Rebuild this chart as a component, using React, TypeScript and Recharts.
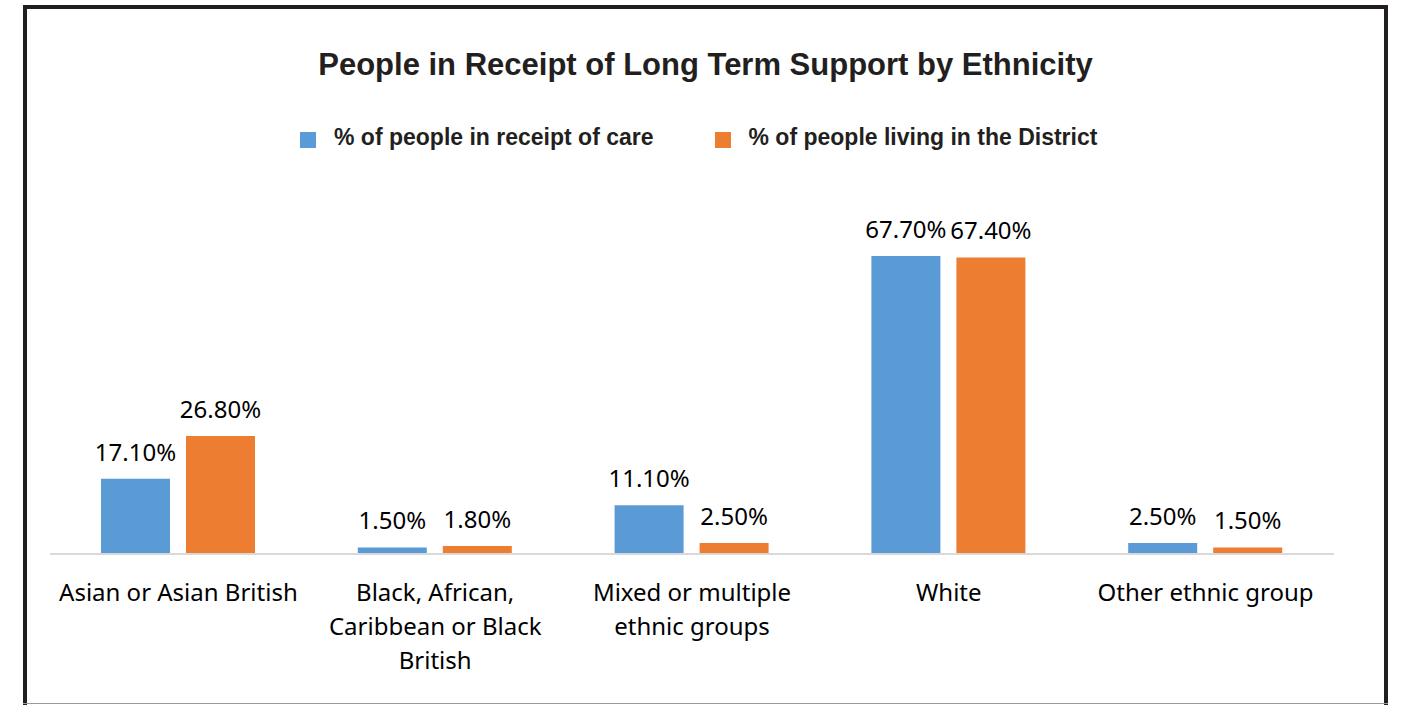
import { BarChart, Bar, XAxis, YAxis, LabelList } from 'recharts';

const categories = [
  'Asian or Asian British',
  'Black, African, Caribbean or Black British',
  'Mixed or multiple ethnic groups',
  'White',
  'Other ethnic group',
];
const tickLines = [
  ['Asian or Asian British'],
  ['Black, African,', 'Caribbean or Black', 'British'],
  ['Mixed or multiple', 'ethnic groups'],
  ['White'],
  ['Other ethnic group'],
];
const careValues = [17.1, 1.5, 11.1, 67.7, 2.5];
const districtValues = [26.8, 1.8, 2.5, 67.4, 1.5];
const seriesNames = ['% of people in receipt of care', '% of people living in the District'];
const seriesColors = ['#5B9BD5', '#ED7D31'];

const data = categories.map((c, i) => ({
  category: c,
  care: careValues[i],
  district: districtValues[i],
}));

const labelFont = '"Noto Sans", sans-serif';
const headFont = '"Liberation Sans", Arial, sans-serif';

const CategoryTick = ({ x, y, index }: any) => {
  const lines = tickLines[index] || [];
  return (
    <g>
      {lines.map((l, i) => (
        <text
          key={i}
          x={x}
          y={y + 47 + i * 34}
          textAnchor="middle"
          fontFamily={labelFont}
          fontSize={24}
          fill="#000"
        >
          {l}
        </text>
      ))}
    </g>
  );
};

const fmt = (v: any) => Number(v).toFixed(2) + '%';

export default function App() {
  return (
    <div style={{ position: 'absolute', left: 0, top: 0, width: 1401, height: 705, background: '#fff', overflow: 'hidden' }}>
      {/* frame */}
      <div style={{ position: 'absolute', left: 23, top: 5, width: 1365, height: 4, background: '#231f20' }} />
      <div style={{ position: 'absolute', left: 23, top: 5, width: 4, height: 700, background: '#231f20' }} />
      <div style={{ position: 'absolute', left: 1384, top: 5, width: 4, height: 700, background: '#231f20' }} />
      <div style={{ position: 'absolute', left: 23, top: 703, width: 1365, height: 1, background: '#999' }} />

      <div
        style={{
          position: 'absolute',
          left: 25,
          width: 1361,
          top: 48.5,
          lineHeight: '31px',
          fontSize: 31,
          fontWeight: 'bold',
          fontFamily: headFont,
          color: '#231f20',
          textAlign: 'center',
        }}
      >
        People in Receipt of Long Term Support by Ethnicity
      </div>

      <div
        style={{
          position: 'absolute',
          left: 300,
          top: 125.5,
          display: 'flex',
          alignItems: 'flex-start',
          fontFamily: headFont,
          fontWeight: 'bold',
          fontSize: 23,
          lineHeight: '23px',
          color: '#231f20',
          whiteSpace: 'nowrap',
        }}
      >
        {seriesNames.map((n, i) => (
          <div key={n} style={{ display: 'flex', alignItems: 'flex-start', marginRight: i === 0 ? 61 : 0 }}>
            <div style={{ width: 16, height: 16, marginTop: 6, background: seriesColors[i], marginRight: 18 }} />
            <span>{n}</span>
          </div>
        ))}
      </div>

      <div style={{ position: 'absolute', left: 0, top: 0 }}>
        <BarChart
          width={1401}
          height={705}
          data={data}
          margin={{ top: 202, right: 67, bottom: 0, left: 50 }}
          barGap={16}
          barSize={69}
        >
          <XAxis
            dataKey="category"
            height={151}
            interval={0}
            tickLine={false}
            tickSize={0}
            tickMargin={0}
            axisLine={{ stroke: '#D9D9D9', strokeWidth: 2 }}
            tick={<CategoryTick />}
          />
          <YAxis hide domain={[0, 80]} />
          <Bar dataKey="care" name={seriesNames[0]} fill={seriesColors[0]} isAnimationActive={false}>
            <LabelList
              dataKey="care"
              position="top"
              offset={18}
              formatter={fmt}
              fill="#000"
              fontSize={24}
              fontFamily={labelFont}
            />
          </Bar>
          <Bar dataKey="district" name={seriesNames[1]} fill={seriesColors[1]} isAnimationActive={false}>
            <LabelList
              dataKey="district"
              position="top"
              offset={18}
              formatter={fmt}
              fill="#000"
              fontSize={24}
              fontFamily={labelFont}
            />
          </Bar>
        </BarChart>
      </div>
    </div>
  );
}
